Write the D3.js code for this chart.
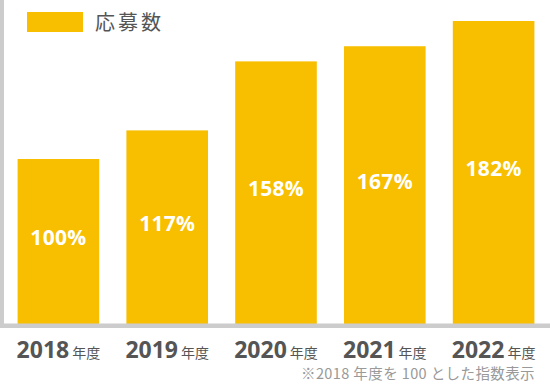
<!DOCTYPE html>
<html><head><meta charset="utf-8">
<script src="https://cdn.jsdelivr.net/npm/d3@7"></script>
<style>
html,body{margin:0;padding:0;background:#fff;}
svg{display:block;}
</style></head>
<body><svg id="c" width="550" height="384"></svg>
<script>
const categories = ["2018", "2019", "2020", "2021", "2022"];
const categorySuffix = "年度";
const values = [100, 117, 158, 167, 182];
const valueLabels = ["100%", "117%", "158%", "167%", "182%"];
const legendLabel = "応募数";
const footnote = "※2018 年度を 100 とした指数表示";

const W = 550, H = 384;
const svg = d3.select("#c");
const barColor = "#F8BE00";
const axisColor = "#CCCCCC";
const baseY = 327.3;

const x = d3.scaleBand().domain(categories).range([4, 548]).paddingInner(0.25).paddingOuter(0.125);
const y = d3.scaleLinear().domain([0, 100]).range([baseY, 159]);

// bars
svg.selectAll("rect.bar").data(values).join("rect")
  .attr("class", "bar")
  .attr("x", (d, i) => x(categories[i]))
  .attr("width", x.bandwidth())
  .attr("y", d => y(d))
  .attr("height", d => baseY - y(d))
  .attr("fill", barColor);

// value labels
svg.selectAll("text.val").data(values).join("text")
  .attr("class", "val")
  .attr("x", (d, i) => x(categories[i]) + x.bandwidth() / 2)
  .attr("y", d => (y(d) + 324) / 2 + 3.5)
  .attr("text-anchor", "middle")
  .attr("font-family", "'Open Sans', sans-serif")
  .attr("font-weight", 700)
  .attr("font-size", 21)
  .attr("letter-spacing", 0.3)
  .attr("fill", "#fff")
  .text((d, i) => valueLabels[i]);

// axes (left and bottom gray bands)
svg.append("rect").attr("x", 0).attr("y", 0).attr("width", 4).attr("height", 328).attr("fill", axisColor);
svg.append("rect").attr("x", 0).attr("y", 323.5).attr("width", W).attr("height", 4.5).attr("fill", axisColor);

// x labels
const xl = svg.selectAll("text.xl").data(categories).join("text")
  .attr("class", "xl")
  .attr("x", d => x(d) + x.bandwidth() / 2)
  .attr("y", 357.5)
  .attr("text-anchor", "middle")
  .attr("fill", "#555");
xl.append("tspan").attr("font-family", "'Open Sans', sans-serif").attr("font-weight", 700).attr("font-size", 23).text(d => d);
xl.append("tspan").attr("dx", 3).attr("font-family", "'Noto Sans CJK JP', sans-serif").attr("font-size", 14).text(categorySuffix);

// legend
svg.append("rect").attr("x", 27).attr("y", 12).attr("width", 56).attr("height", 20).attr("fill", barColor);
svg.append("text").attr("x", 95).attr("y", 29.5)
  .attr("font-family", "'Noto Sans CJK JP', sans-serif")
  .attr("font-size", 20).attr("letter-spacing", 3)
  .attr("fill", "#555").text(legendLabel);

// footnote
svg.append("text").attr("x", 535).attr("y", 379)
  .attr("text-anchor", "end")
  .attr("font-family", "'Noto Sans CJK JP', sans-serif")
  .attr("font-size", 14.5).attr("letter-spacing", 0.4)
  .attr("fill", "#999").text(footnote);
</script></body></html>
